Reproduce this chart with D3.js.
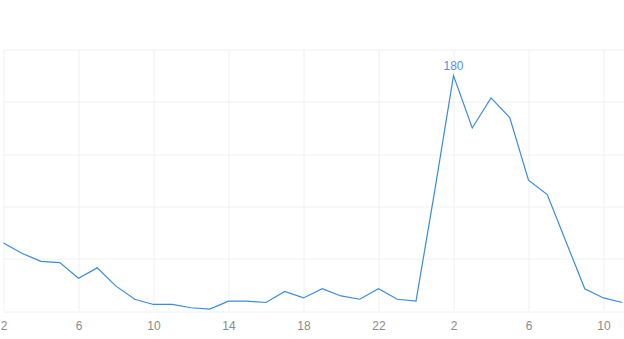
<!DOCTYPE html>
<html>
<head>
<meta charset="utf-8">
<script src="https://cdn.jsdelivr.net/npm/d3@7"></script>
<style>
  html, body { margin: 0; padding: 0; background: #fff; }
  #chart { width: 624px; height: 339px; }
  .axis text { font-family: "Liberation Sans", Arial, sans-serif; font-size: 12px; fill: #8a8a8a; }
</style>
</head>
<body>
<div id="chart"></div>
<script>
// hours of the day, two days running
const hours = [2, 3, 4, 5, 6, 7, 8, 9, 10, 11, 12, 13, 14, 15, 16, 17, 18, 19, 20, 21, 22, 23,
               0, 1, 2, 3, 4, 5, 6, 7, 8, 9, 10, 11]
const counts = [52, 44, 38, 37, 25, 33, 19, 9, 5, 5, 2.5, 1.5, 7.5, 7.5, 6.5, 15, 10, 17, 11.5, 9, 17, 9,
                7.5, 92, 180, 140, 163, 148, 100, 89, 53, 17, 10, 6.5]
const yTicks = [0, 40, 80, 120, 160, 200]
const xTickIdx = [0, 4, 8, 12, 16, 20, 24, 28, 32]

const dataset = hours.map((h, i) => ({ i, h, v: counts[i] }))

const xAccessor = d => d.i
const yAccessor = d => d.v

let dimensions = {
  width: 624,
  height: 339,
  margin: { top: 49.5, right: 1.75, bottom: 28, left: 3.5 }
}
dimensions.ctrWidth = dimensions.width - dimensions.margin.left - dimensions.margin.right
dimensions.ctrHeight = dimensions.height - dimensions.margin.top - dimensions.margin.bottom

const svg = d3.select('#chart')
  .append('svg')
  .attr('width', dimensions.width)
  .attr('height', dimensions.height)

const ctr = svg.append('g')
  .attr('transform', `translate(${dimensions.margin.left}, ${dimensions.margin.top})`)

// scales
const xScale = d3.scaleLinear()
  .domain([0, hours.length - 1])
  .range([0, dimensions.ctrWidth])
const yScale = d3.scaleLinear()
  .domain([0, 200])
  .range([dimensions.ctrHeight, 0])

// grid
ctr.append('g')
  .selectAll('line')
  .data(yTicks)
  .join('line')
  .attr('x1', 0)
  .attr('x2', dimensions.width - dimensions.margin.left)
  .attr('y1', d => Math.round(yScale(d)) + 0.5)
  .attr('y2', d => Math.round(yScale(d)) + 0.5)
  .attr('stroke', '#f0f0f0')

ctr.append('g')
  .selectAll('line')
  .data(xTickIdx)
  .join('line')
  .attr('x1', d => Math.round(xScale(d)) + 0.5)
  .attr('x2', d => Math.round(xScale(d)) + 0.5)
  .attr('y1', 0)
  .attr('y2', dimensions.ctrHeight)
  .attr('stroke', '#f0f0f0')

// line
const line = d3.line()
  .x(d => xScale(xAccessor(d)))
  .y(d => yScale(yAccessor(d)))

ctr.append('path')
  .datum(dataset)
  .attr('d', line)
  .attr('fill', 'none')
  .attr('stroke', '#3a8bdc')
  .attr('stroke-width', 1.2)

// max label
const maxPoint = dataset.reduce((a, b) => (b.v > a.v ? b : a))
ctr.append('text')
  .attr('x', xScale(maxPoint.i))
  .attr('y', yScale(maxPoint.v) - 6)
  .attr('text-anchor', 'middle')
  .attr('fill', '#5a8fd6')
  .style('font-family', '"Liberation Sans", Arial, sans-serif')
  .style('font-size', '12px')
  .text(maxPoint.v)

// x axis
const xAxis = d3.axisBottom(xScale)
  .tickValues(xTickIdx)
  .tickFormat(i => hours[i])
  .tickSize(0)
  .tickPadding(10)

const xAxisGroup = ctr.append('g')
  .attr('transform', `translate(0, ${dimensions.ctrHeight})`)
  .classed('axis', true)
  .call(xAxis)
xAxisGroup.select('.domain').remove()
</script>
</body>
</html>
